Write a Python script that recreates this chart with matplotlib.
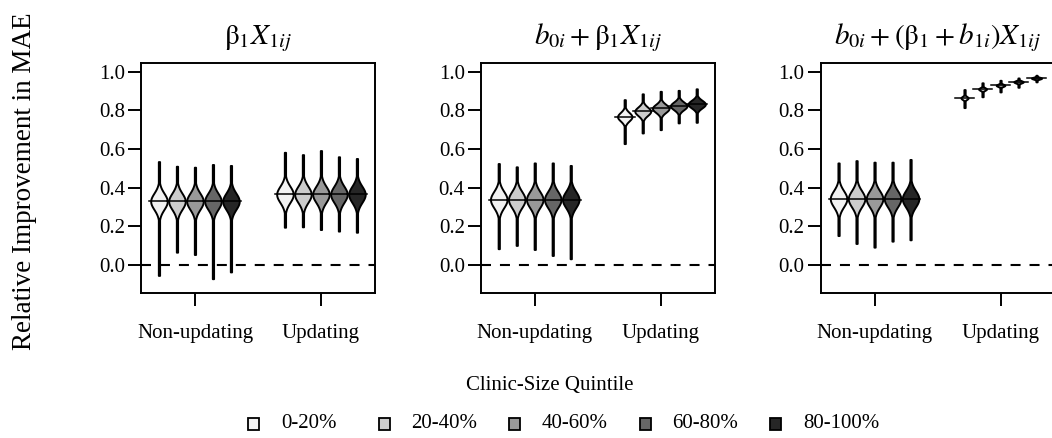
import numpy as np
import matplotlib
matplotlib.use("Agg")
import matplotlib.pyplot as plt  # noqa
from matplotlib.patches import Rectangle

plt.rcParams['font.family'] = 'Liberation Serif'
plt.rcParams['mathtext.fontset'] = 'stix'

# panel titles (model terms)
titles = [r'$\mathrm{\beta}_1 X_{1ij}$',
          r'$b_{0i} + \mathrm{\beta}_1 X_{1ij}$',
          r'$b_{0i} + (\mathrm{\beta}_1 + b_{1i})X_{1ij}$']
groups = ['Non-updating', 'Updating']
quintiles = ['0-20%', '20-40%', '40-60%', '60-80%', '80-100%']
fills = ['#f2f2f2', '#cccccc', '#999999', '#666666', '#262626']

# per panel, per group: five violins (one per clinic-size quintile)
# median, min, max, spread of the body, relative half width
med = [[[0.330] * 5, [0.366] * 5],
       [[0.339] * 5, [0.767, 0.795, 0.810, 0.823, 0.832]],
       [[0.343] * 5, [0.864, 0.910, 0.929, 0.947, 0.966]]]
lo = [[[-0.053, 0.067, 0.055, -0.070, -0.035], [0.196, 0.198, 0.184, 0.176, 0.170]],
      [[0.085, 0.102, 0.081, 0.050, 0.033], [0.628, 0.683, 0.700, 0.735, 0.738]],
      [[0.153, 0.112, 0.093, 0.124, 0.131], [0.814, 0.870, 0.895, 0.919, 0.947]]]
hi = [[[0.535, 0.511, 0.506, 0.520, 0.515], [0.583, 0.571, 0.592, 0.560, 0.551]],
      [[0.525, 0.508, 0.528, 0.528, 0.515], [0.855, 0.885, 0.898, 0.903, 0.911]],
      [[0.528, 0.540, 0.532, 0.532, 0.546], [0.907, 0.942, 0.955, 0.967, 0.981]]]
spread = [[[0.042] * 5, [0.042] * 5],
          [[0.042] * 5, [0.022, 0.022, 0.021, 0.020, 0.020]],
          [[0.042] * 5, [0.008, 0.007, 0.006, 0.006, 0.005]]]
width = [[[0.46] * 5, [0.46] * 5],
         [[0.46] * 5, [0.40, 0.44, 0.46, 0.46, 0.48]],
         [[0.46] * 5, [0.20, 0.22, 0.24, 0.26, 0.28]]]

group_at = [3, 10]


def violin(ax, x, m, a, b, s, w, color):
    y = np.linspace(a, b, 400)
    hw = np.maximum(w * np.exp(-0.5 * ((y - m) / s) ** 2), 0.035)
    ax.fill_betweenx(y, x - hw, x + hw, facecolor=color, edgecolor='black',
                     linewidth=1.4, zorder=3)
    ax.plot([x - 0.55, x + 0.55], [m, m], color='black', lw=1.1, zorder=4)


fig = plt.figure(figsize=(10.52, 4.38), dpi=100)
lefts = [0.134, 0.457, 0.780]
for p in range(3):
    ax = fig.add_axes([lefts[p], 0.331, 0.2224, 0.525])
    for g in range(2):
        for k in range(5):
            x = group_at[g] - 2 + k
            violin(ax, x, med[p][g][k], lo[p][g][k], hi[p][g][k],
                   spread[p][g][k], width[p][g][k], fills[k])
    ax.axhline(0, color='black', lw=1.5, dashes=(4.8, 4.3), zorder=2)
    ax.set_xlim(0, 13)
    ax.set_ylim(-0.144, 1.044)
    ax.set_yticks(np.arange(0, 1.01, 0.2))
    ax.set_yticklabels(['%.1f' % v for v in np.arange(0, 1.01, 0.2)])
    ax.set_xticks(group_at)
    ax.set_xticklabels(groups)
    ax.tick_params(axis='y', length=9.5, width=1.4, pad=2, labelsize=15)
    ax.tick_params(axis='x', length=9.5, width=1.4, pad=13, labelsize=15)
    for sp in ax.spines.values():
        sp.set_linewidth(1.4)
    ax.set_title(titles[p], fontsize=21, pad=14)

fig.text(0.023, 0.587, 'Relative Improvement in MAE', rotation=90,
         ha='center', va='center', fontsize=19.5)

# legend row with evenly spaced boxes
fig.text(0.523, 0.121, 'Clinic-Size Quintile', ha='center', va='center',
         fontsize=15)
for i, (lab, c) in enumerate(zip(quintiles, fills)):
    x0 = (248 + 130.5 * i) / 1052
    fig.add_artist(Rectangle((x0, 0.0183), 11 / 1052, 12 / 438,
                             transform=fig.transFigure, facecolor=c,
                             edgecolor='black', linewidth=1.3))
    fig.text(x0 + 33 / 1052, 0.032, lab, ha='left', va='center', fontsize=15)

fig.savefig('out.png', dpi=100)
